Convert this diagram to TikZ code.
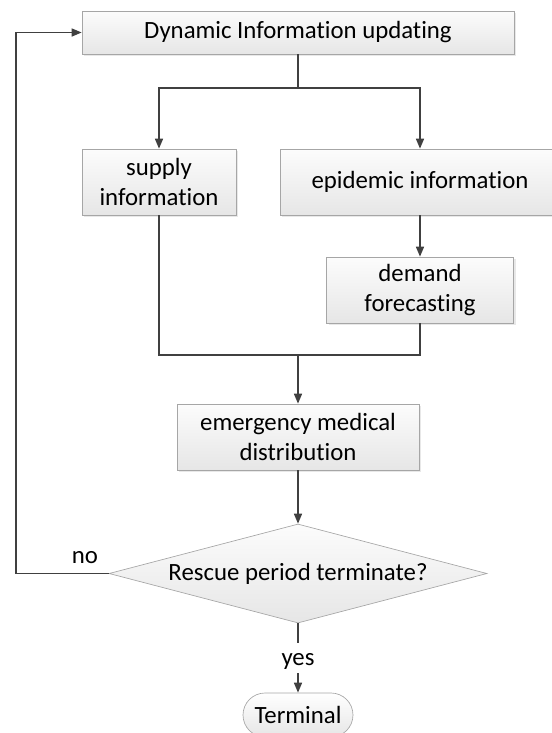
\documentclass[tikz,border=0pt]{standalone}
\usepackage{fontspec}
\setmainfont{Carlito}[Ligatures=NoCommon]
\usetikzlibrary{arrows.meta,shapes.geometric,shadows}

\definecolor{linegray}{RGB}{64,64,64}
\definecolor{edgegray}{RGB}{166,166,166}
\definecolor{filltop}{RGB}{252,252,252}
\definecolor{fillbot}{RGB}{230,230,230}

\tikzset{
  flowbox/.style={rectangle, draw=edgegray, line width=0.5pt, top color=filltop, bottom color=fillbot,
    drop shadow={shadow xshift=1.5pt, shadow yshift=-1.5pt, fill=black!18},
    inner sep=0pt, align=center, font=\fontsize{18.6}{22}\selectfont},
  decisionbox/.style={diamond, draw=edgegray, line width=0.5pt, top color=filltop, bottom color=fillbot,
    aspect=3.6, inner sep=0pt, font=\fontsize{18.6}{22}\selectfont},
  endbox/.style={rectangle, rounded corners=16.5pt, draw=edgegray, line width=0.5pt, top color=white, bottom color=fillbot,
    inner sep=0pt, font=\fontsize{18.6}{22}\selectfont},
  flowlabel/.style={inner sep=0pt, font=\fontsize{18.6}{22}\selectfont},
  flow/.style={draw=linegray, line width=1.1pt},
  flowarrow/.style={flow, -{Triangle[length=7.5pt,width=6pt]}}
}

\begin{document}
\begin{tikzpicture}[x=0.75pt,y=0.75pt,yscale=-1,xscale=1]
    \useasboundingbox (0,0) rectangle (552,733);
    % Boxes
    \node (dyn) at (298,32.5) [flowbox, minimum width=324pt, minimum height=32.25pt] {Dynamic Information updating};
    \node (supply) at (159,182) [flowbox, minimum width=115.5pt, minimum height=49.5pt] {supply\\information};
    \node (epi) at (420,182) [flowbox, minimum width=210pt, minimum height=49.5pt] {epidemic information};
    \node (demand) at (420,290) [flowbox, minimum width=140.25pt, minimum height=49.5pt] {demand\\forecasting};
    \node (emerg) at (298,437) [flowbox, minimum width=181.5pt, minimum height=49.5pt] {emergency medical\\distribution};
    % Decision
    \node (dec) at (298,573.5) [decisionbox, minimum width=283.5pt, minimum height=74.25pt] {Rescue period terminate?};
    % Terminal
    \node (term) at (298,715) [endbox, minimum width=82.5pt, minimum height=33pt] {Terminal};
    % Labels
    \node (no) at (85,563) [flowlabel, anchor=base] {no};
    \node (yes) at (298,665) [flowlabel, anchor=base] {yes};

    % Junctions
    \coordinate (split) at (298,88);
    \coordinate (join) at (298,355);
    \coordinate (back) at (16,573.5);
    \coordinate (yesin) at (298,643);
    \coordinate (yesout) at (298,673);

    % Connectors
    \draw [flow] (dyn.south) -- (split);
    \draw [flowarrow] (split) -| (supply.north);
    \draw [flowarrow] (split) -| (epi.north);
    \draw [flowarrow] (epi.south) -- (demand.north);
    \draw [flow] (supply.south) |- (join) -| (demand.south);
    \draw [flowarrow] (join) -- (emerg.north);
    \draw [flowarrow] (emerg.south) -- (dec.north);
    \draw [flowarrow] (dec.west) -- (back) |- (dyn.west);
    \draw [flow] (dec.south) -- (yesin);
    \draw [flowarrow] (yesout) -- (term.north);
\end{tikzpicture}
\end{document}
